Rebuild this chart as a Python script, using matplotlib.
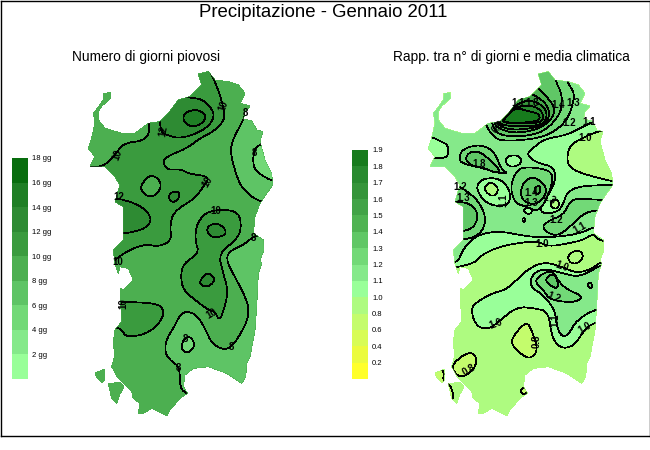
import numpy as np
import matplotlib
matplotlib.use("Agg")
import matplotlib.pyplot as plt
from matplotlib.colors import ListedColormap, BoundaryNorm
from matplotlib.patches import PathPatch, Polygon
from matplotlib.path import Path

plt.rcParams['font.family'] = ['Liberation Sans', 'DejaVu Sans']

# Colour scales, bottom to top
days_levels = [0, 2, 4, 6, 8, 10, 12, 14, 16, 18]
days_colors = ['#99FF99', '#85E98A', '#72D977', '#5EC465', '#4CAF50',
               '#3A9B3E', '#2E8B33', '#1F7F25', '#086D0E']
ratio_levels = [0, 0.2, 0.4, 0.6, 0.8, 1.0, 1.1, 1.2, 1.3, 1.4, 1.5, 1.6, 1.7, 1.8, 1.9]
ratio_colors = ['#FFFF2A', '#EBFB3E', '#D8FC55', '#C4FC6C', '#AEFB80', '#99FF99', '#85E98A',
                '#72D977', '#60C766', '#4FB352', '#42A347', '#35953A', '#288A2F', '#177B1D']

# Island outline, map units (1/3 pixel)
coast = [(355,12),(385,5),(405,30),(445,35),(475,45),(495,70),(480,100),(510,108),(495,125),(490,148),
         (515,152),(530,180),(548,185),(540,215),(555,270),(575,310),(578,345),(560,370),(540,400),(525,440),
         (520,490),(550,510),(552,540),(540,570),(545,580),(535,610),(530,710),(525,780),(510,860),(500,880),
         (497,920),(485,940),(440,910),(385,890),(340,895),(315,915),(310,950),(322,970),(300,985),(270,1020),
         (260,1037),(215,1015),(190,1030),(175,1030),(180,1000),(160,985),(155,965),(135,945),(115,925),(95,890),
         (105,855),(100,820),(105,780),(125,755),(120,655),(130,660),(160,630),(145,595),(120,590),(115,610),
         (105,580),(100,540),(130,510),(130,480),(130,410),(105,395),(120,345),(105,320),(75,290),(30,290),
         (45,260),(25,235),(35,205),(45,160),(40,128),(50,118),(70,90),(72,70),(90,68),(92,85),
         (65,108),(55,125),(55,150),(75,175),(125,190),(165,190),(205,160),(240,155),(265,130),(295,90),
         (330,80),(365,45)]
san_pietro = [(45,910),(72,898),(75,930),(65,938),(50,920)]
sant_antioco = [(85,940),(120,938),(132,950),(118,975),(110,1000),(95,985)]

# Rain days: (value, outline), painted in order
days_base = 9
days_regions = [
    (11, [(20,292),(70,290),(105,255),(130,220),(190,212),(208,190),(205,155),(230,120),(280,60),(340,-10),
          (385,-10),(415,60),(430,110),(435,150),(400,185),(360,205),(320,235),(260,260),(248,275),(262,300),
          (300,297),(330,312),(390,320),(370,350),(345,385),(280,425),(270,470),(275,510),(240,530),(190,522),
          (130,550),(100,575),(60,575),(-20,575),(-20,292)]),
    (13, [(300,82),(340,83),(370,90),(395,115),(403,140),(385,170),(340,195),(295,205),(260,195),(243,185),
          (240,155),(230,130),(280,70)]),
    (15, [(308,140),(320,125),(350,118),(372,130),(378,145),(360,165),(335,170),(315,160)]),
    (13, [(90,385),(115,385),(180,405),(215,440),(205,470),(165,485),(130,490),(100,490)]),
    (9, [(180,350),(205,318),(225,318),(245,340),(235,370),(210,382),(190,370)]),
    (13, [(265,380),(275,365),(298,365),(298,385),(280,398),(270,390)]),
    (11, [(350,460),(385,420),(470,420),(485,460),(475,505),(415,550),(430,610),(445,665),(430,725),(418,752),
          (405,725),(385,720),(345,690),(310,660),(302,620),(310,580),(358,550),(345,510)]),
    (13, [(380,470),(410,458),(435,475),(438,495),(405,503),(385,495)]),
    (13, [(358,635),(380,607),(400,618),(403,635),(385,650),(365,647)]),
    (11, [(70,697),(230,697),(255,725),(235,765),(195,793),(140,802),(125,780),(110,772),(70,772)]),
    (7, [(500,120),(490,150),(460,205),(450,245),(470,320),(490,360),(540,398),(620,400),(620,120)]),
    (7, [(600,490),(555,490),(520,500),(490,525),(445,545),(440,575),(470,630),(505,700),(505,745),(480,795),
         (455,830),(430,840),(395,820),(375,775),(350,735),(320,723),(300,735),(280,775),(258,810),(255,850),
         (275,875),(298,890),(300,940),(305,960),(322,970),(340,1000),(600,1000)]),
    (5, [(620,200),(540,220),(520,245),(520,290),(535,310),(580,335),(620,335)]),
    (5, [(330,798),(347,825),(325,850),(303,840),(310,808)]),
]
days_labels = [('10',430,108,70),('12',250,182,80),('10',112,255,70),('12',115,380,0),('10',382,337,60),
               ('10',407,422,0),('8',495,130,0),('8',523,250,0),('8',520,503,0),('10',112,575,0),
               ('10',130,700,90),('10',395,732,30),('8',455,830,0),('8',315,808,0),('8',296,895,0)]

# Ratio to the climate mean
ratio_base = 0.9
ratio_regions = [
    (1.05, [(-20,600),(150,590),(190,550),(255,525),(350,512),(385,530),(445,520),(490,510),(520,490),(540,515),(620,515),
            (620,-20),(-20,-20)]),
    (0.9, [(620,180),(545,180),(495,200),(450,225),(440,265),(450,295),(500,315),(580,335),(620,335)]),
    (1.05, [(540,575),(520,595),(470,610),(425,590),(370,575),(320,600),(285,635),(255,660),(215,670),(165,700),
            (155,715),(160,750),(180,775),(210,775),(230,760),(290,710),(345,715),(385,725),(395,800),(420,835),
            (460,830),(490,785),(515,760),(600,740),(600,575)]),
    (1.15, [(540,585),(505,608),(470,620),(430,610),(370,595),(335,615),(330,650),(370,675),(405,720),(410,770),
            (425,800),(445,795),(470,750),(530,715),(600,715),(600,585)]),
    (1.25, [(350,625),(375,607),(400,605),(420,640),(445,660),(480,675),(485,685),(460,698),(390,690),(370,660),
            (348,640)]),
    (1.35, [(375,630),(388,615),(405,615),(415,640),(412,655),(395,650)]),
    (1.25, [(502,645),(510,635),(518,648),(510,656)]),
    (0.9, [(442,560),(460,543),(485,543),(490,565),(470,582),(450,578)]),
    (0.7, [(320,755),(335,780),(355,840),(330,868),(300,850),(272,820),(285,790)]),
    (0.7, [(90,890),(135,850),(165,850),(170,880),(155,905),(120,925)]),
    (0.7, [(73,895),(68,940),(90,940),(105,990),(60,1010),(30,900)]),
    (0.7, [(298,962),(312,952),(325,962),(312,975)]),
    (1.15, [(-20,600),(110,585),(130,535),(170,495),(235,483),(300,495),(350,502),(420,500),(480,490),(530,468),
            (620,460),(620,345),(545,345),(470,350),(440,370),(430,400),(415,425),(375,432),(360,420),(370,395),
            (392,365),(408,325),(400,290),(350,278),(320,255),(335,238),(370,208),(440,195),(490,170),(530,150),
            (620,150),(620,-20),(-20,-20)]),
    (1.05, [(-10,200),(35,200),(60,213),(85,225),(85,262),(45,265),(-10,270)]),
    (1.05, [(170,345),(190,325),(240,325),(270,360),(270,400),(240,410),(200,400),(175,370)]),
    (0.9, [(190,355),(210,335),(235,350),(230,375),(210,378)]),
    (1.05, [(255,270),(270,255),(300,258),(305,280),(280,292),(262,285)]),
    (1.05, [(310,420),(320,412),(335,415),(335,430),(320,432)]),
    (1.05, [(305,445),(318,445),(312,460)]),
    (0.9, [(390,400),(405,385),(420,400),(410,418),(395,412)]),
    (1.25, [(118,265),(125,240),(165,225),(200,230),(225,250),(245,300),(265,310),(240,310),(190,295),(125,280)]),
    (1.35, [(135,265),(150,245),(180,245),(210,270),(240,300),(230,310),(195,295),(150,285)]),
    (1.25, [(270,350),(290,300),(320,290),(390,300),(400,330),(375,400),(350,425),(320,410),(285,400)]),
    (1.35, [(300,365),(315,330),(345,320),(380,350),(375,380),(345,405),(310,395)]),
    (1.45, [(340,355),(360,345),(362,365),(350,375)]),
    (1.25, [(80,345),(110,345),(150,370),(180,400),(200,450),(180,495),(130,510),(80,510)]),
    (1.35, [(80,395),(110,395),(150,400),(175,430),(165,470),(130,485),(80,485)]),
    (1.25, [(620,390),(545,390),(470,385),(450,395),(430,435),(390,450),(365,470),(385,490),(410,497),(440,480),
            (490,430),(530,420),(620,420)]),
    (1.25, [(440,-20),(440,35),(465,70),(455,115),(440,150),(410,180),(360,205),(245,215),(215,195),(195,160),(190,120),(300,-20)]),
    (1.35, [(405,-20),(405,30),(425,70),(425,105),(420,130),(390,170),(345,195),(270,200),(230,190),(215,160),(210,120),(300,-20)]),
    (1.45, [(340,40),(385,85),(405,115),(395,150),(350,180),(280,190),(235,175),(222,160),(220,120),(300,40)]),
    (1.55, [(310,60),(370,90),(390,125),(380,160),(340,175),(270,180),(235,165),(225,130)]),
    (1.65, [(300,95),(340,92),(372,110),(382,135),(370,165),(300,170),(245,165),(235,150)]),
    (1.75, [(285,112),(330,105),(365,120),(372,150),(350,160),(258,160),(245,150)]),
    (1.85, [(285,112),(330,125),(355,130),(362,150),(320,158),(258,158),(250,150)]),
]
ratio_labels = [('1.8',336,98,0),('1.1',295,100,0),('1.3',460,100,0),('1.4',414,105,0),('1.2',448,160,0),
                ('1.1',507,157,0),('1.0',495,203,0),('0.9',235,172,45),('1.8',178,282,0),('1.2',120,350,0),
                ('1.3',130,385,0),('1.1',250,392,90),('1.3',333,398,0),('1.4',333,368,0),('1.3',385,385,-30),
                ('1.2',410,450,0),('1.1',480,475,30),('1.0',367,522,0),('1.0',425,590,-20),('1.2',400,682,-20),
                ('1.1',405,750,90),('1.0',495,775,30),('1.0',228,762,20),('0.8',350,815,90),('0.8',148,900,30)]


def smooth(points, rounds=2):
    # corner cutting, enough to round off the contour outlines
    pts = np.array(points, float)
    for _ in range(rounds):
        nxt = np.roll(pts, -1, axis=0)
        pts = np.column_stack([0.75 * pts + 0.25 * nxt, 0.25 * pts + 0.75 * nxt]).reshape(-1, 2)
    return pts


def island_path():
    verts, codes = [], []
    for part in (coast, san_pietro, sant_antioco):
        verts += list(part) + [part[0]]
        codes += [Path.MOVETO] + [Path.LINETO] * (len(part) - 1) + [Path.CLOSEPOLY]
    return Path(verts, codes)


def draw_map(rect, base, regions, labels, levels, colors):
    cmap = ListedColormap(colors)
    norm = BoundaryNorm(levels, cmap.N)
    ax = fig.add_axes(rect)
    ax.set_xlim(0, 630)
    ax.set_ylim(1080, 0)
    ax.axis('off')
    island = PathPatch(island_path(), facecolor=cmap(norm(base)), edgecolor='none', antialiased=False)
    ax.add_patch(island)
    for value, outline in regions:
        poly = Polygon(smooth(outline), closed=True, facecolor=cmap(norm(value)), edgecolor='black',
                       linewidth=0.5, antialiased=False)
        ax.add_patch(poly)
        poly.set_clip_path(island)
    for text, x, y, angle in labels:
        ax.text(x, y, text, ha='center', va='center', rotation=angle, fontsize=7, fontweight='bold', color='black')


def draw_bar(rect, levels, colors, labels):
    ax = fig.add_axes(rect)
    ax.bar(np.zeros(len(colors)), np.ones(len(colors)), bottom=np.arange(len(colors)), width=1, color=colors)
    ax.set_xlim(-0.5, 0.5)
    ax.set_ylim(0, len(colors))
    ax.set_xticks([])
    ax.yaxis.tick_right()
    ax.set_yticks(np.arange(1, len(colors) + 1), labels)
    ax.tick_params(axis='y', length=0, pad=3, labelsize=5.5)
    for side in ax.spines.values():
        side.set_visible(False)


W, H = 650, 450
fig = plt.figure(figsize=(W / 100, H / 100), dpi=100)
fig.patch.set_facecolor('white')

# outer frame
frame = fig.add_axes([0.5 / W, 14 / H, 649 / W, 435 / H])
frame.set_xticks([])
frame.set_yticks([])
for side in frame.spines.values():
    side.set_linewidth(1.0)

fig.text(323 / W, 1 - 12.5 / H, 'Precipitazione - Gennaio 2011', ha='center', va='center', fontsize=13.4)
fig.text(146 / W, 1 - 57 / H, 'Numero di giorni piovosi', ha='center', va='center', fontsize=9.9)
fig.text(511 / W, 1 - 57 / H, 'Rapp. tra n° di giorni e media climatica', ha='center', va='center', fontsize=9.9)

draw_map([80 / W, 1 - 430 / H, 210 / W, 360 / H], days_base, days_regions, days_labels,
         days_levels, days_colors)
draw_map([420 / W, 1 - 430 / H, 210 / W, 360 / H], ratio_base, ratio_regions, ratio_labels,
         ratio_levels, ratio_colors)

draw_bar([12 / W, 1 - 379 / H, 16 / W, 221 / H], days_levels, days_colors,
         ['%d gg' % v for v in days_levels[1:]])
draw_bar([352 / W, 1 - 379 / H, 16 / W, 229 / H], ratio_levels, ratio_colors,
         ['%.1f' % v for v in ratio_levels[1:]])

fig.savefig('out.png', dpi=100)
